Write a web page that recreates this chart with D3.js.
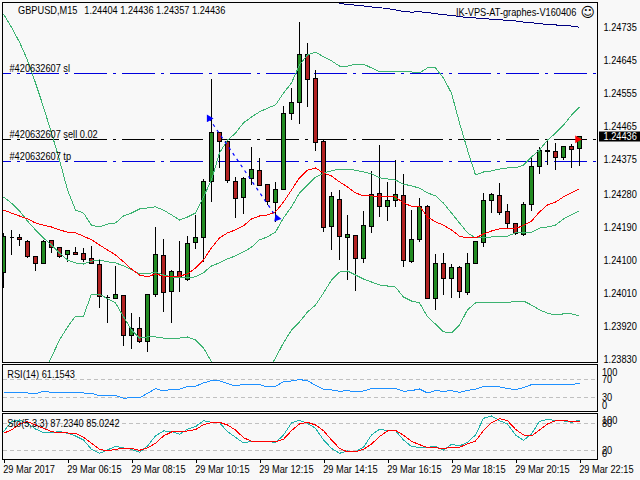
<!DOCTYPE html>
<html>
<head>
<meta charset="utf-8">
<script src="https://cdn.jsdelivr.net/npm/d3@7"></script>
<style>
  html, body { margin: 0; padding: 0; background: #f8f8f8; }
  svg { display: block; }
  text { font-family: "Liberation Sans", sans-serif; font-size: 11px; fill: #000; }
</style>
</head>
<body>
<svg id="chart" width="640" height="480"></svg>
<script>
const opens = [
  1.24065, 1.24161, 1.24161, 1.24150, 1.24109, 1.24090, 1.24152, 1.24134, 1.24115, 1.24120,
  1.24117, 1.24104, 1.24087, 1.23996, 1.23995, 1.24003, 1.23894, 1.23913, 1.23877, 1.24005,
  1.24112, 1.24014, 1.24068, 1.24046, 1.24147, 1.24161, 1.24312, 1.24447, 1.24422, 1.24314,
  1.24270, 1.24322, 1.24344, 1.24304, 1.24255, 1.24292, 1.24499, 1.24529, 1.24660, 1.24595,
  1.24423, 1.24191, 1.24265, 1.24161, 1.24166, 1.24104, 1.24191, 1.24281, 1.24245, 1.24262,
  1.24275, 1.24094, 1.24155, 1.24245, 1.23995, 1.24090, 1.24049, 1.24079, 1.24011, 1.24090,
  1.24147, 1.24262, 1.24275, 1.24232, 1.24199, 1.24169, 1.24251, 1.24354, 1.24398, 1.24395,
  1.24379, 1.24409, 1.24404,
];
const closes = [
  1.24164, 1.24161, 1.24155, 1.24108, 1.24090, 1.24150, 1.24134, 1.24108, 1.24125, 1.24115,
  1.24100, 1.24090, 1.24000, 1.23996, 1.24005, 1.23894, 1.23913, 1.23877, 1.24005, 1.24115,
  1.24011, 1.24068, 1.24052, 1.24145, 1.24161, 1.24312, 1.24447, 1.24422, 1.24316, 1.24267,
  1.24322, 1.24346, 1.24303, 1.24258, 1.24292, 1.24499, 1.24529, 1.24660, 1.24592, 1.24420,
  1.24188, 1.24273, 1.24164, 1.24169, 1.24104, 1.24194, 1.24278, 1.24245, 1.24262, 1.24278,
  1.24098, 1.24155, 1.24245, 1.23995, 1.24090, 1.24049, 1.24079, 1.24014, 1.24090, 1.24150,
  1.24262, 1.24278, 1.24229, 1.24199, 1.24172, 1.24251, 1.24354, 1.24398, 1.24394, 1.24379,
  1.24409, 1.24401, 1.24436,
];
const highs = [
  1.24175, 1.24183, 1.24170, 1.24155, 1.24109, 1.24155, 1.24154, 1.24137, 1.24128, 1.24137,
  1.24132, 1.24139, 1.24101, 1.24005, 1.24085, 1.24005, 1.23956, 1.23945, 1.24005, 1.24191,
  1.24158, 1.24074, 1.24151, 1.24166, 1.24224, 1.24322, 1.24595, 1.24447, 1.24428, 1.24326,
  1.24326, 1.24409, 1.24379, 1.24306, 1.24314, 1.24519, 1.24570, 1.24750, 1.24693, 1.24619,
  1.24428, 1.24287, 1.24290, 1.24224, 1.24166, 1.24235, 1.24344, 1.24415, 1.24314, 1.24374,
  1.24335, 1.24237, 1.24270, 1.24249, 1.24117, 1.24120, 1.24090, 1.24085, 1.24120, 1.24150,
  1.24284, 1.24284, 1.24311, 1.24254, 1.24202, 1.24259, 1.24379, 1.24409, 1.24428, 1.24420,
  1.24409, 1.24417, 1.24436,
];
const lows = [
  1.24023, 1.24115, 1.24138, 1.24105, 1.24069, 1.24090, 1.24119, 1.24105, 1.24094, 1.24113,
  1.24096, 1.24090, 1.23969, 1.23928, 1.23995, 1.23865, 1.23857, 1.23873, 1.23849, 1.23999,
  1.23958, 1.23928, 1.24014, 1.24044, 1.24131, 1.24096, 1.24258, 1.24351, 1.24310, 1.24214,
  1.24225, 1.24306, 1.24301, 1.24249, 1.24203, 1.24292, 1.24481, 1.24470, 1.24517, 1.24397,
  1.24176, 1.24127, 1.24100, 1.24046, 1.24015, 1.24092, 1.24173, 1.24217, 1.24208, 1.24244,
  1.24081, 1.24093, 1.24149, 1.23995, 1.23965, 1.24005, 1.23997, 1.23997, 1.24005, 1.24090,
  1.24136, 1.24229, 1.24224, 1.24185, 1.24169, 1.24166, 1.24233, 1.24335, 1.24360, 1.24346,
  1.24372, 1.24352, 1.24357,
];

const upperBand = [
  1.24770, 1.24734, 1.24693, 1.24644, 1.24582, 1.24516, 1.24445, 1.24372, 1.24290, 1.24235,
  1.24227, 1.24194, 1.24189, 1.24197, 1.24200, 1.24219, 1.24227, 1.24238, 1.24241, 1.24244,
  1.24235, 1.24222, 1.24208, 1.24216, 1.24227, 1.24271, 1.24317, 1.24391, 1.24426, 1.24445,
  1.24473, 1.24489, 1.24503, 1.24513, 1.24522, 1.24554, 1.24582, 1.24631, 1.24658, 1.24666,
  1.24653, 1.24642, 1.24628, 1.24628, 1.24633, 1.24633, 1.24623, 1.24612, 1.24612, 1.24612,
  1.24614, 1.24612, 1.24609, 1.24623, 1.24623, 1.24595, 1.24554, 1.24473, 1.24399, 1.24331,
  1.24339, 1.24342, 1.24347, 1.24350, 1.24350, 1.24358, 1.24380, 1.24399, 1.24426, 1.24445,
  1.24467, 1.24494, 1.24516,
];
const middleBand = [
  1.24271, 1.24254, 1.24233, 1.24205, 1.24181, 1.24159, 1.24140, 1.24118, 1.24099, 1.24091,
  1.24088, 1.24096, 1.24099, 1.24094, 1.24091, 1.24083, 1.24072, 1.24061, 1.24061, 1.24066,
  1.24058, 1.24053, 1.24050, 1.24050, 1.24053, 1.24064, 1.24083, 1.24091, 1.24102, 1.24110,
  1.24121, 1.24134, 1.24154, 1.24162, 1.24175, 1.24214, 1.24244, 1.24282, 1.24304, 1.24325,
  1.24336, 1.24342, 1.24347, 1.24347, 1.24344, 1.24339, 1.24334, 1.24323, 1.24320, 1.24317,
  1.24306, 1.24301, 1.24295, 1.24282, 1.24274, 1.24254, 1.24227, 1.24200, 1.24173, 1.24159,
  1.24159, 1.24162, 1.24162, 1.24164, 1.24173, 1.24173, 1.24175, 1.24186, 1.24189, 1.24194,
  1.24211, 1.24222, 1.24233,
];
const redAverage = [
  1.24235, 1.24227, 1.24219, 1.24211, 1.24200, 1.24194, 1.24189, 1.24181, 1.24175, 1.24173,
  1.24164, 1.24154, 1.24140, 1.24126, 1.24113, 1.24094, 1.24074, 1.24058, 1.24053, 1.24061,
  1.24055, 1.24053, 1.24055, 1.24061, 1.24077, 1.24099, 1.24132, 1.24159, 1.24173, 1.24181,
  1.24192, 1.24211, 1.24219, 1.24222, 1.24230, 1.24257, 1.24290, 1.24323, 1.24344, 1.24350,
  1.24336, 1.24328, 1.24312, 1.24298, 1.24282, 1.24274, 1.24274, 1.24271, 1.24271, 1.24271,
  1.24254, 1.24246, 1.24246, 1.24216, 1.24203, 1.24194, 1.24181, 1.24164, 1.24159, 1.24159,
  1.24170, 1.24178, 1.24184, 1.24186, 1.24184, 1.24194, 1.24205, 1.24230, 1.24249, 1.24257,
  1.24271, 1.24282, 1.24293,
];
const lowerBand = [
  null, null, null, null, null, 1.23794, 1.23834, 1.23881, 1.23916, 1.23946,
  1.23946, 1.24006, 1.24006, 1.23993, 1.23982, 1.23944, 1.23908, 1.23886, 1.23889, 1.23889,
  1.23886, 1.23886, 1.23886, 1.23889, 1.23881, 1.23859, 1.23821, 1.23785, null, null,
  null, null, null, 1.23794, 1.23832, 1.23873, 1.23908, 1.23930, 1.23957, 1.23976,
  1.24009, 1.24044, 1.24066, 1.24069, 1.24058, 1.24047, 1.24039, 1.24031, 1.24028, 1.24025,
  1.23998, 1.23987, 1.23982, 1.23944, 1.23924, 1.23903, 1.23900, 1.23922, 1.23963, 1.23982,
  1.23982, 1.23982, 1.23982, 1.23982, 1.23987, 1.23987, 1.23976, 1.23963, 1.23954, 1.23949,
  1.23952, 1.23952, 1.23946,
];
// long average only comes into view near the end of the window
const longAverage = [
  null, null, null, null, null, null, null, null, null, null,
  null, null, null, null, null, null, null, null, null, null,
  null, null, null, null, null, null, null, null, null, null,
  null, null, null, null, null, null, null, null, null, null,
  null, null, 1.24799, 1.24796, 1.24794, 1.24792, 1.24789, 1.24787, 1.24785, 1.24781,
  1.24777, 1.24775, 1.24776, 1.24774, 1.24771, 1.24768, 1.24766, 1.24763, 1.24760, 1.24759,
  1.24757, 1.24756, 1.24754, 1.24753, 1.24751, 1.24748, 1.24746, 1.24744, 1.24741, 1.24740,
  1.24739, 1.24737, 1.24734,
];

const rsi = [
  41.1, 41.1, 41.1, 39.6, 38.1, 43.3, 41.1, 41.1, 40.4, 39.6,
  39.6, 38.9, 33, 33, 34.4, 27.8, 29.3, 28.5, 38.9, 49.3,
  44.1, 47.8, 47.8, 54.4, 54.4, 61.9, 67, 66.3, 60.4, 55.2,
  58.9, 58.9, 58.1, 53, 54.4, 64.8, 66.3, 69.3, 67, 56.7,
  47.8, 46.3, 43.3, 44.8, 41.9, 44.1, 49.3, 49.3, 49.3, 49.3,
  43.3, 44.8, 48.5, 39.6, 44.8, 43.3, 44.8, 41.1, 45.6, 47.8,
  54.4, 54.4, 53, 49.3, 47, 51.5, 58.1, 58.1, 58.1, 58.1,
  58.1, 58.1, 61.15,
];
const stochMain = [
  61.5, 83.7, 87.4, 80, 67.4, 59.3, 58.5, 62.2, 57.8, 51.9,
  43, 22.2, 13.3, 20.7, 28.9, 25.2, 22.2, 15.6, 29.6, 51.9,
  63, 62.2, 55.6, 66.7, 72.6, 85.9, 82.2, 81.5, 61.5, 48.9,
  36.3, 40, 39.3, 40, 37, 54.1, 80.7, 86.7, 80, 68.9,
  43, 24.4, 13.3, 18.5, 17, 26.7, 54.1, 66.7, 63.7, 63.7,
  43, 28.1, 26.7, 26.7, 28.9, 20.7, 33.3, 29.6, 37.8, 54.1,
  91.1, 96.3, 85.9, 78.5, 54.1, 42.2, 56.3, 84.4, 88.9, 85.9,
  85.2, 82.2, 87.23,
];
const stochSignal = [
  57.8, 65.2, 78.5, 83.7, 76.3, 68.9, 61.5, 58.5, 58.5, 57.8,
  48.9, 35.6, 22.2, 18.5, 22.2, 24.4, 24.4, 20, 25.2, 35.6,
  51.9, 60.7, 60.7, 63, 65.9, 77, 81.5, 82.2, 76.3, 65.2,
  48.1, 40, 40, 40, 39.3, 44.4, 63.7, 78.5, 82.2, 76.3,
  63.7, 43, 24.4, 16.3, 16.3, 22.2, 34.1, 50.4, 63, 64.4,
  53.3, 40, 32.6, 25.9, 25.9, 23.7, 26.7, 26.7, 34.1, 40.7,
  63.7, 81.5, 90.4, 85.9, 66.7, 54.1, 51.9, 65.2, 78.5, 85.9,
  85.9, 84.4, 85.02,
];

const priceTicks = [1.24735, 1.24645, 1.24555, 1.24465, 1.24375, 1.2428, 1.2419, 1.241, 1.2401, 1.2392, 1.2383];
const timeTickBars = [0, 8, 16, 24, 32, 40, 48, 56, 64, 72];
const timeTickLabels = [
  "29 Mar 2017", "29 Mar 06:15", "29 Mar 08:15", "29 Mar 10:15", "29 Mar 12:15",
  "29 Mar 14:15", "29 Mar 16:15", "29 Mar 18:15", "29 Mar 20:15", "29 Mar 22:15",
];
const rsiLevels = [70, 30];
const rsiTicks = [100, 70, 30, 0];
const stochLevels = [80, 20];
const stochTicks = [100, 80, 20, 0];

const lastPrice = 1.24436;
const orders = [
  { label: "#420632607 sl", price: 1.24608, color: "#0000dd" },
  { label: "#420632607 sell 0.02", price: 1.24428, color: "#000" },
  { label: "#420632607 tp", price: 1.24368, color: "#0000dd" },
];
const tradeBars = [25.7, 34.2];
const tradePrices = [1.24485, 1.24213];

const plotLeft = 2, plotRight = 597.5, plotTop = 2, mainBottom = 362;

const svg = d3.select("#chart");
const x = d3.scaleLinear().domain([0, 72]).range([3.5, 579.5]);
const y = d3.scaleLinear().domain([1.2383, 1.24735]).range([358.6, 26.8]);
const yRsi = d3.scaleLinear().domain([0, 100]).range([410.8, 365.8]);
const yStoch = d3.scaleLinear().domain([0, 100]).range([459.3, 414.3]);
const snap = (v) => Math.round(v - 0.5) + 0.5;
const bars = d3.range(opens.length);

svg.append("defs").append("clipPath").attr("id", "main-clip")
  .append("rect").attr("x", plotLeft).attr("y", plotTop)
  .attr("width", plotRight - plotLeft).attr("height", mainBottom - plotTop);

const frame = (y0, y1) => svg.append("rect")
  .attr("x", plotLeft + 0.5).attr("y", y0 + 0.5)
  .attr("width", plotRight - plotLeft - 0.5).attr("height", y1 - y0)
  .attr("fill", "none").attr("stroke", "#000").attr("shape-rendering", "crispEdges");

const main = svg.append("g").attr("clip-path", "url(#main-clip)");

// order levels sit behind the candles
main.selectAll("line.order").data(orders).join("line")
  .attr("class", "order")
  .attr("x1", plotLeft).attr("x2", plotRight)
  .attr("y1", (d) => snap(y(d.price))).attr("y2", (d) => snap(y(d.price)))
  .attr("stroke", (d) => d.color)
  .attr("stroke-dasharray", "33,6,3,6").attr("stroke-dashoffset", 24)
  .attr("shape-rendering", "crispEdges");

const candles = main.append("g").attr("shape-rendering", "crispEdges");
candles.selectAll("line").data(bars).join("line")
  .attr("x1", (i) => snap(x(i))).attr("x2", (i) => snap(x(i)))
  .attr("y1", (i) => snap(y(highs[i]))).attr("y2", (i) => snap(y(lows[i])))
  .attr("stroke", "#000");
candles.selectAll("path").data(bars).join("path")
  .attr("d", (i) => {
    const bodyTop = snap(y(Math.max(opens[i], closes[i])));
    const bodyBot = snap(y(Math.min(opens[i], closes[i])));
    const cx = snap(x(i));
    return `M${cx - 2},${bodyTop}H${cx + 2}V${bodyBot}H${cx - 2}Z`;
  })
  .attr("fill", (i) => (closes[i] >= opens[i] ? "#228b22" : "#b22222"))
  .attr("stroke", "#000");

const drawLine = (parent, values, scale, color) => {
  const line = d3.line()
    .defined((d) => d !== null)
    .x((d, i) => x(i))
    .y((d) => scale(d));
  parent.append("path").attr("d", line(values))
    .attr("fill", "none").attr("stroke", color).attr("stroke-width", 1)
    .attr("shape-rendering", "crispEdges");
};

drawLine(main, upperBand, y, "#3cb371");
drawLine(main, middleBand, y, "#3cb371");
drawLine(main, lowerBand, y, "#3cb371");
drawLine(main, redAverage, y, "#ff0000");
drawLine(main, longAverage, y, "#000080");

// closed trade: dotted link and its two arrows
main.append("line")
  .attr("x1", x(tradeBars[0])).attr("y1", y(tradePrices[0]))
  .attr("x2", x(tradeBars[1])).attr("y2", y(tradePrices[1]))
  .attr("stroke", "#0000ff").attr("stroke-width", 1.2).attr("stroke-dasharray", "3,4");
const arrow = d3.symbol().type(d3.symbolTriangle).size(26);
main.append("path").attr("d", arrow())
  .attr("transform", `translate(${x(tradeBars[0])},${y(tradePrices[0])}) rotate(90)`)
  .attr("fill", "#0000ff");
main.append("path").attr("d", arrow())
  .attr("transform", `translate(${x(tradeBars[1])},${y(tradePrices[1])}) rotate(-20)`)
  .attr("fill", "#0000ff");
main.append("path").attr("d", arrow())
  .attr("transform", `translate(${x(72) - 2},${y(orders[1].price)}) rotate(90)`)
  .attr("fill", "#ff0000");

frame(plotTop, mainBottom);
frame(364, 411);
frame(413, 459);

// price axis
const priceAxis = svg.append("g").attr("transform", `translate(${plotRight},0)`)
  .call(d3.axisRight(y).tickValues(priceTicks).tickFormat(d3.format(".5f")).tickSize(0).tickPadding(6));
priceAxis.select(".domain").remove();

svg.append("rect")
  .attr("x", 599).attr("y", snap(y(lastPrice)) - 5)
  .attr("width", 41).attr("height", 10).attr("fill", "#000");
svg.append("text").text(d3.format(".5f")(lastPrice))
  .attr("x", 603.5).attr("y", y(lastPrice)).attr("dy", "0.36em")
  .style("fill", "#fff");

// time axis hangs off the stochastic panel
const timeAxis = svg.append("g").attr("transform", "translate(0,459)")
  .call(d3.axisBottom(x).tickValues(timeTickBars)
    .tickFormat((d, i) => timeTickLabels[i]).tickSize(4).tickPadding(2));
timeAxis.select(".domain").remove();
timeAxis.selectAll("line").attr("shape-rendering", "crispEdges");
timeAxis.selectAll("text").attr("text-anchor", "start").attr("dx", -1);

// RSI panel
svg.selectAll("line.rsi-level").data(rsiLevels).join("line")
  .attr("class", "rsi-level")
  .attr("x1", plotLeft + 1).attr("x2", plotRight)
  .attr("y1", (d) => snap(yRsi(d))).attr("y2", (d) => snap(yRsi(d)))
  .attr("stroke", "#c0c0c0").attr("stroke-dasharray", "4,3")
  .attr("shape-rendering", "crispEdges");
drawLine(svg, rsi, yRsi, "#1e90ff");

// stochastic panel
svg.selectAll("line.stoch-level").data(stochLevels).join("line")
  .attr("class", "stoch-level")
  .attr("x1", plotLeft + 1).attr("x2", plotRight)
  .attr("y1", (d) => snap(yStoch(d))).attr("y2", (d) => snap(yStoch(d)))
  .attr("stroke", "#c0c0c0").attr("stroke-dasharray", "4,3")
  .attr("shape-rendering", "crispEdges");
drawLine(svg, stochMain, yStoch, "#20b2aa");
drawLine(svg, stochSignal, yStoch, "#ff0000");

// 100 and 0 labels are pulled inside the panel, like the terminal does
const sideLabels = (ticks, scale) => svg.selectAll(null).data(ticks).join("text")
  .text((d) => d)
  .attr("x", 602)
  .attr("y", (d) => scale(d) + (d === 100 ? 6 : d === 0 ? -6 : 0))
  .attr("dy", "0.36em");
sideLabels(rsiTicks, yRsi);
sideLabels(stochTicks, yStoch);

const label = (text, px, py) => svg.append("text").text(text)
  .attr("x", px).attr("y", py).attr("dy", "0.36em");

label("GBPUSD,M15", 18, 10.5);
label("1.24404 1.24436 1.24357 1.24436", 84.3, 10.5);
label("IK-VPS-AT-graphes-V160406", 456, 12);
label("RSI(14) 61.1543", 7.3, 373.7);
label("Sto(5,3,3) 87.2340 85.0242", 7.3, 422.7);
orders.forEach((d) => label(d.label, 9.5, y(d.price) - 5.6));

// the terminal font is narrower than anything installed, so squeeze the glyphs
svg.selectAll("text").each(function () {
  const el = d3.select(this);
  const px = +el.attr("x") || 0;
  el.attr("font-size", null).attr("font-family", null)
    .attr("transform", `translate(${px},0) scale(0.84,1) translate(${-px},0)`);
});
svg.selectAll("g").attr("font-size", null).attr("font-family", null);

svg.append("text").text("\u263A").attr("x", 580.5).attr("y", 12).attr("dy", "0.36em")
  .style("font-family", "DejaVu Sans").style("font-size", "14px");
</script>
</body>
</html>
